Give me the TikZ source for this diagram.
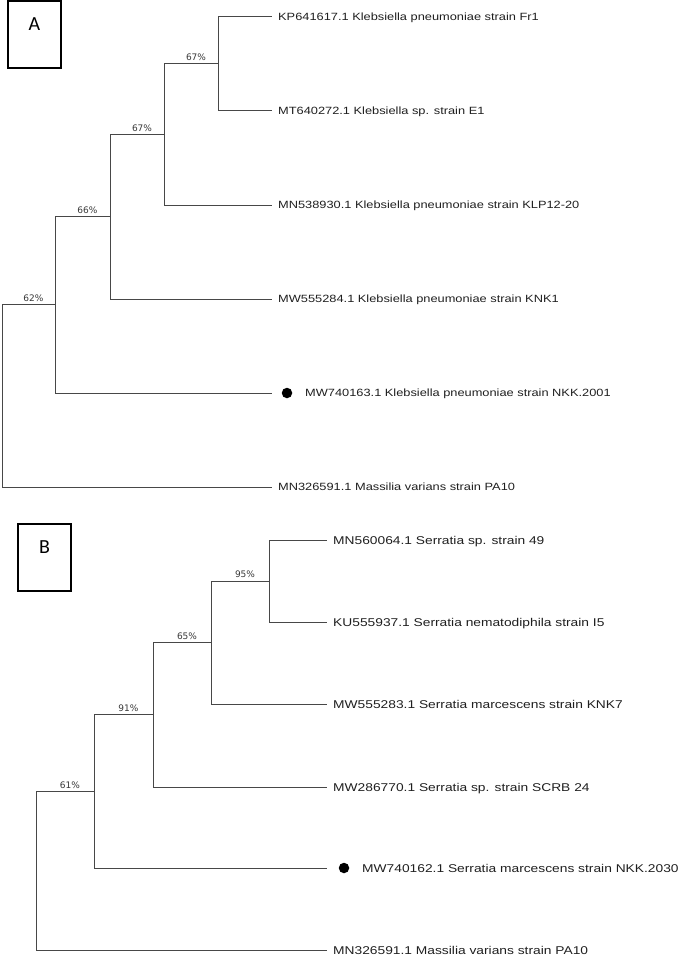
\documentclass[tikz,border=0pt]{standalone}
\usepackage{fontspec}
\setmainfont{Liberation Sans}
\newfontfamily\leaffont[FakeStretch=1.22]{Liberation Sans}
\newfontfamily\pctfont{DejaVu Sans}
\newfontfamily\panelfont{Carlito}
\usetikzlibrary{positioning}

\begin{document}
\begin{tikzpicture}[x=1pt,y=-1pt,
  branch/.style={draw=black!72,line width=1pt},
  leaf/.style={anchor=west,inner sep=0pt,text height=7.5pt,text depth=0pt,
    font=\leaffont\fontsize{10.5}{12}\selectfont,text=black!88},
  leafB/.style={leaf,text height=8.1pt,font=\leaffont\fontsize{11.3}{13}\selectfont},
  pct/.style={anchor=south,inner sep=2.5pt,xshift=5pt,
    font=\pctfont\fontsize{9}{10}\selectfont,text=black!78},
  panel/.style={draw,line width=1.3pt,minimum width=53pt,minimum height=67pt,inner sep=0pt},
  letter/.style={anchor=north,inner sep=0pt,font=\panelfont\fontsize{20}{24}\selectfont},
  isolate/.style={circle,fill=black,inner sep=0pt,minimum size=10.5pt}]
  \useasboundingbox (0,0) rectangle (685,955);
  % Upper part of the Figure (A)
  \node[panel]  (boxA)   at (34.5,34.5) {};
  \node[letter] (A)      at (34.5,17) {A};
  \coordinate   (rA)     at (2,395.9);
  \coordinate   (nA1)    at (55,304.9);
  \coordinate   (nA2)    at (110,216.8);
  \coordinate   (nA3)    at (164,134.5);
  \coordinate   (nA4)    at (218,64);
  \coordinate   (tA1)    at (272,17);
  \coordinate   (tA2)    at (272,111);
  \coordinate   (tA3)    at (272,205);
  \coordinate   (tA4)    at (272,299);
  \coordinate   (tA5)    at (272,393);
  \coordinate   (tA6)    at (272,487);
  \node[leaf]   (KP641617)  at (278,17)  {KP641617.1 Klebsiella pneumoniae strain Fr1};
  \node[leaf]   (MT640272)  at (278,111) {MT640272.1 Klebsiella sp. strain E1};
  \node[leaf]   (MN538930)  at (278,205) {MN538930.1 Klebsiella pneumoniae strain KLP12-20};
  \node[leaf]   (MW555284)  at (278,299) {MW555284.1 Klebsiella pneumoniae strain KNK1};
  \node[isolate] (dotA)     at (287,393) {};
  \node[leaf]   (MW740163)  at (305,393) {MW740163.1 Klebsiella pneumoniae strain NKK.2001};
  \node[leaf]   (MN326591a) at (278,487) {MN326591.1 Massilia varians strain PA10};
  \draw[branch] (rA)  |- node[pct,pos=.75] {62\%} (nA1);
  \draw[branch] (rA)  |- (tA6);
  \draw[branch] (nA1) |- node[pct,pos=.75] {66\%} (nA2);
  \draw[branch] (nA1) |- (tA5);
  \draw[branch] (nA2) |- node[pct,pos=.75] {67\%} (nA3);
  \draw[branch] (nA2) |- (tA4);
  \draw[branch] (nA3) |- node[pct,pos=.75] {67\%} (nA4);
  \draw[branch] (nA3) |- (tA3);
  \draw[branch] (nA4) |- (tA1);
  \draw[branch] (nA4) |- (tA2);
  % Lower part of the Figure (B)
  \node[panel]  (boxB)   at (44.5,557.5) {};
  \node[letter] (B)      at (44.5,540) {B};
  \coordinate   (rB)     at (36,870.7);
  \coordinate   (nB1)    at (94,791.4);
  \coordinate   (nB2)    at (153,714.8);
  \coordinate   (nB3)    at (211,642.5);
  \coordinate   (nB4)    at (269,581);
  \coordinate   (tB1)    at (327,540);
  \coordinate   (tB2)    at (327,622);
  \coordinate   (tB3)    at (327,704);
  \coordinate   (tB4)    at (327,787);
  \coordinate   (tB5)    at (327,868);
  \coordinate   (tB6)    at (327,950);
  \node[leafB]  (MN560064)  at (333,540) {MN560064.1 Serratia sp. strain 49};
  \node[leafB]  (KU555937)  at (333,622) {KU555937.1 Serratia nematodiphila strain I5};
  \node[leafB]  (MW555283)  at (333,704) {MW555283.1 Serratia marcescens strain KNK7};
  \node[leafB]  (MW286770)  at (333,787) {MW286770.1 Serratia sp. strain SCRB 24};
  \node[isolate] (dotB)     at (344,868) {};
  \node[leafB]  (MW740162)  at (362,868) {MW740162.1 Serratia marcescens strain NKK.2030};
  \node[leafB]  (MN326591b) at (333,950) {MN326591.1 Massilia varians strain PA10};
  \draw[branch] (rB)  |- node[pct,pos=.75] {61\%} (nB1);
  \draw[branch] (rB)  |- (tB6);
  \draw[branch] (nB1) |- node[pct,pos=.75] {91\%} (nB2);
  \draw[branch] (nB1) |- (tB5);
  \draw[branch] (nB2) |- node[pct,pos=.75] {65\%} (nB3);
  \draw[branch] (nB2) |- (tB4);
  \draw[branch] (nB3) |- node[pct,pos=.75] {95\%} (nB4);
  \draw[branch] (nB3) |- (tB3);
  \draw[branch] (nB4) |- (tB1);
  \draw[branch] (nB4) |- (tB2);
\end{tikzpicture}
\end{document}
